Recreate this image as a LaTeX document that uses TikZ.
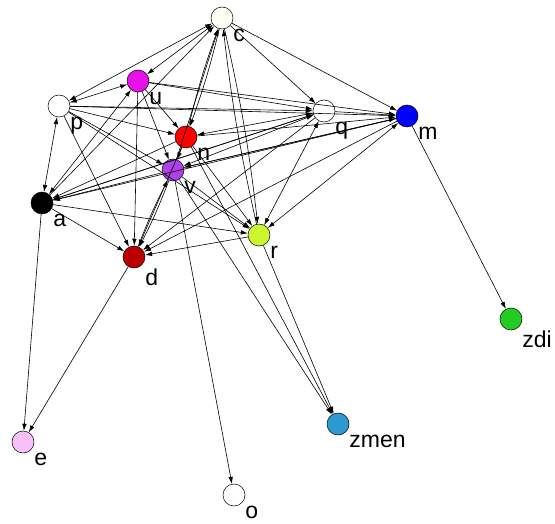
\documentclass[tikz,border=0pt]{standalone}
\usepackage{fontspec}
\setmainfont{Liberation Sans}
\usetikzlibrary{arrows.meta}
\definecolor{cream}{HTML}{FFFFF2}
\definecolor{magenta2}{HTML}{E810E8}
\definecolor{violet2}{HTML}{B040E8}
\definecolor{darkred2}{HTML}{B80000}
\definecolor{lime2}{HTML}{CCF530}
\definecolor{green2}{HTML}{22CC22}
\definecolor{cyan2}{HTML}{2A9AD0}
\definecolor{pink2}{HTML}{F8C0F8}
\tikzstyle{vertex}=[circle,draw=black,line width=0.5pt,fill=white,minimum size=22pt,inner sep=0pt]
\tikzstyle{lab}=[anchor=north west,inner sep=1pt,label distance=3pt,font=\fontsize{23}{26}\selectfont]

\begin{document}
\begin{tikzpicture}[x=1pt,y=-1pt,>={Latex[length=7pt,width=4.5pt]},line width=0.6pt]
\useasboundingbox (0,0) rectangle (555,524);
\node[vertex, fill=cream, label={[lab]-45:c}] at (222, 18) (c) {};
\node[vertex, fill=magenta2, label={[lab]-45:u}] at (138, 81) (u) {};
\node[vertex, label={[lab]-45:p}] at (59, 106) (p) {};
\node[vertex, fill=red, label={[lab]-45:n}] at (186, 137) (n) {};
\node[vertex, fill=violet2, label={[lab]-45:v}] at (173, 170) (v) {};
\node[vertex, label={[lab]-45:q}] at (324, 111) (q) {};
\node[vertex, fill=blue, label={[lab]-45:m}] at (407, 116) (m) {};
\node[vertex, fill=black, label={[lab]-45:a}] at (42, 203) (a) {};
\node[vertex, fill=darkred2, label={[lab]-45:d}] at (134, 257) (d) {};
\node[vertex, fill=lime2, label={[lab]-45:r}] at (259, 235) (r) {};
\node[vertex, fill=green2, label={[lab]-45:zdi}] at (511, 319) (zdi) {};
\node[vertex, fill=cyan2, label={[lab]-45:zmen}] at (338, 424) (zmen) {};
\node[vertex, fill=pink2, label={[lab]-45:e}] at (23, 442) (e) {};
\node[vertex, label={[lab]-45:o}] at (234, 495) (o) {};
% c
\draw[<->] (c) edge (p);
\draw[<->] (c) edge (u);
\draw[->] (c) edge (q);
\draw[->] (c) edge (m);
\draw[->] (c) edge[bend left=3] (r);
\draw[->] (r) edge[bend left=3] (c);
\draw[->] (c) edge[bend left=3] (n);
\draw[->] (n) edge[bend left=3] (c);
\draw[->] (a) edge (c);
\draw[->] (v) edge (c);
% u
\draw[<->] (p) edge (u);
\draw[<->] (a) edge (u);
\draw[->] (u) edge (q);
\draw[->] (u) edge (m);
\draw[->] (u) edge (n);
\draw[->] (u) edge (v);
\draw[->] (u) edge (d);
% p
\draw[<->] (a) edge (p);
\draw[->] (p) edge (q);
\draw[->] (p) edge (m);
\draw[->] (p) edge (n);
\draw[->] (p) edge (v);
\draw[->] (p) edge (d);
\draw[->] (p) edge (r);
% n
\draw[<->] (q) edge (n);
\draw[->] (n) edge (m);
\draw[->] (n) edge (v);
\draw[->] (n) edge (a);
\draw[->] (n) edge (d);
\draw[->] (n) edge (r);
\draw[->] (n) edge (zmen);
% v
\draw[<->] (q) edge (v);
\draw[->] (v) edge[bend left=3] (d);
\draw[->] (d) edge[bend left=3] (v);
\draw[->] (v) edge (m);
\draw[->] (v) edge (a);
\draw[->] (v) edge (r);
\draw[->] (v) edge (o);
\draw[->] (v) edge (zmen);
% q, m
\draw[<->] (q) edge (r);
\draw[<->] (m) edge (r);
\draw[->] (q) edge (m);
\draw[->] (q) edge (a);
\draw[->] (q) edge (d);
\draw[->] (m) edge (zdi);
\draw[->] (m) edge (a);
\draw[->] (m) edge (d);
\draw[->] (m) edge (v);
% a, d, r
\draw[->] (a) edge (e);
\draw[->] (a) edge (d);
\draw[->] (a) edge (r);
\draw[->] (a) edge (q);
\draw[->] (d) edge (e);
\draw[->] (r) edge (d);
\draw[->] (r) edge (zmen);
\end{tikzpicture}
\end{document}
